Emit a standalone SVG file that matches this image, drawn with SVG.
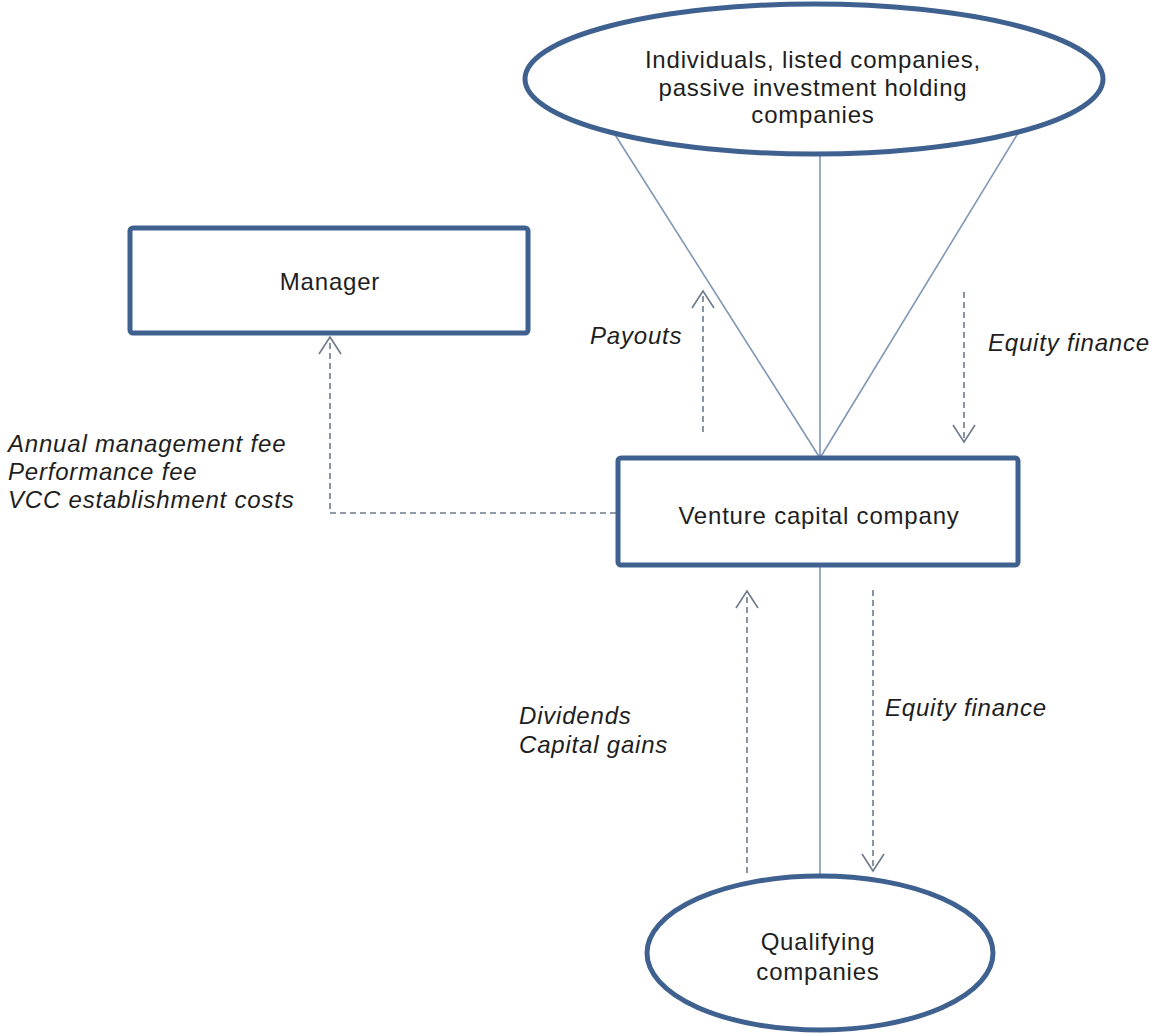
<svg xmlns="http://www.w3.org/2000/svg" width="1149" height="1035" viewBox="0 0 1149 1035">
  <defs>
    <style>
      .node { fill: #ffffff; stroke: #3f618f; stroke-width: 5; }
      .link { fill: none; stroke: #7f97b6; stroke-width: 1.6; }
      .flow { fill: none; stroke: #6d7a8c; stroke-width: 1.6; stroke-dasharray: 6 4; }
      .ntext { font-family: "Liberation Sans", Arial, sans-serif; font-size: 24px; fill: #1e1e1e; letter-spacing: 0.8px; text-anchor: middle; }
      .ltext { font-family: "Liberation Sans", Arial, sans-serif; font-size: 24px; font-style: italic; fill: #1e1e1e; letter-spacing: 0.8px; }
    </style>
    <marker id="open" viewBox="-20 -14 24 28" markerWidth="24" markerHeight="28" refX="0" refY="0" orient="auto" markerUnits="userSpaceOnUse">
      <path d="M -17 -11 L 0 0 L -17 11" fill="none" stroke="#6d7a8c" stroke-width="1.6"/>
    </marker>
  </defs>
  <rect width="1149" height="1035" fill="#ffffff"/>

  <g id="connectors">
    <line class="link" x1="820" y1="458" x2="612" y2="130"/>
    <line class="link" x1="820" y1="458" x2="820" y2="140"/>
    <line class="link" x1="820" y1="458" x2="1020" y2="130"/>
    <line class="link" x1="820" y1="565" x2="820" y2="880"/>
    <path class="flow" d="M 703 432 L 703 291" marker-end="url(#open)"/>
    <path class="flow" d="M 964 292 L 964 442" marker-end="url(#open)"/>
    <path class="flow" d="M 616 513 L 330 513 L 330 337" marker-end="url(#open)"/>
    <path class="flow" d="M 747 873 L 747 591" marker-end="url(#open)"/>
    <path class="flow" d="M 873 590 L 873 871" marker-end="url(#open)"/>
  </g>

  <g id="investors">
    <ellipse class="node" cx="814" cy="79" rx="289" ry="75"/>
    <text class="ntext" x="813" y="68">Individuals, listed companies,</text>
    <text class="ntext" x="813" y="96">passive investment holding</text>
    <text class="ntext" x="813" y="123">companies</text>
  </g>

  <g id="manager">
    <rect class="node" x="130" y="228" width="398" height="105" rx="3"/>
    <text class="ntext" x="330" y="290">Manager</text>
  </g>

  <g id="vcc">
    <rect class="node" x="618" y="458" width="400" height="107" rx="3"/>
    <text class="ntext" x="819" y="524">Venture capital company</text>
  </g>

  <g id="qualifying">
    <ellipse class="node" cx="820" cy="953" rx="173" ry="77"/>
    <text class="ntext" x="818" y="950">Qualifying</text>
    <text class="ntext" x="818" y="980">companies</text>
  </g>

  <g id="labels">
    <text class="ltext" x="590" y="344">Payouts</text>
    <text class="ltext" x="988" y="351">Equity finance</text>
    <text class="ltext" x="8" y="452">Annual management fee</text>
    <text class="ltext" x="8" y="480">Performance fee</text>
    <text class="ltext" x="8" y="508">VCC establishment costs</text>
    <text class="ltext" x="519" y="724">Dividends</text>
    <text class="ltext" x="519" y="753">Capital gains</text>
    <text class="ltext" x="885" y="716">Equity finance</text>
  </g>
</svg>
